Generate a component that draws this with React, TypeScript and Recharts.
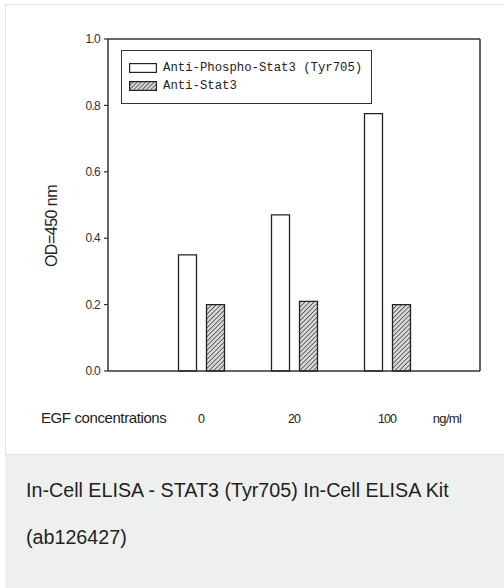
import { BarChart, Bar, XAxis, YAxis, CartesianGrid } from "recharts";

const concentrations = ["0", "20", "100"];
const phosphoStat3 = [0.35, 0.47, 0.775];
const totalStat3 = [0.2, 0.21, 0.2];
const yTicks = [0, 0.2, 0.4, 0.6, 0.8, 1.0];
const seriesNames = ["Anti-Phospho-Stat3 (Tyr705)", "Anti-Stat3"];

const data = concentrations.map((c, i) => ({
  conc: c,
  phospho: phosphoStat3[i],
  total: totalStat3[i],
}));

const AXIS = "#333";
const SANS = "Arial, 'Liberation Sans', sans-serif";
const MONO = "'Liberation Mono', 'Courier New', monospace";

const ConcTick = (props: any) => {
  const { x, payload } = props;
  return (
    <text
      x={x}
      y={423}
      textAnchor="middle"
      fontFamily={SANS}
      fontSize={12.5}
      letterSpacing={-0.9}
      fill="#222"
    >
      {payload.value}
    </text>
  );
};

const HatchSwatch = () => (
  <svg width={28} height={10} style={{ display: "block" }}>
    <defs>
      <pattern id="hatchLegend" width={3} height={3} patternUnits="userSpaceOnUse" patternTransform="rotate(45)">
        <rect width={3} height={3} fill="#d8d8d8" />
        <line x1={0} y1={0} x2={0} y2={3} stroke="#333" strokeWidth={1.4} />
      </pattern>
    </defs>
    <rect x={0.6} y={0.6} width={26.8} height={8.8} fill="url(#hatchLegend)" stroke="#222" strokeWidth={1.2} />
  </svg>
);

const PlainSwatch = () => (
  <svg width={28} height={10} style={{ display: "block" }}>
    <rect x={0.6} y={0.6} width={26.8} height={8.8} fill="#fff" stroke="#222" strokeWidth={1.2} />
  </svg>
);

export default function App() {
  return (
    <div
      style={{
        position: "absolute",
        left: 0,
        top: 0,
        width: 504,
        height: 588,
        background: "#fff",
        overflow: "hidden",
      }}
    >
      {/* card frame */}
      <div
        style={{
          position: "absolute",
          left: 5,
          top: 4,
          width: 510,
          height: 449,
          borderTop: "1.5px solid #e3e3e3",
          borderLeft: "1.5px solid #e3e3e3",
          borderBottom: "1.5px solid #e3e3e3",
        }}
      />
      <div style={{ position: "absolute", left: 0, top: 0 }}>
        <BarChart
          width={504}
          height={450}
          data={data}
          margin={{ top: 39, right: 24, left: 0, bottom: 0 }}
          barSize={18}
          barGap={10}
        >
          <defs>
            <pattern id="hatch" width={3.2} height={3.2} patternUnits="userSpaceOnUse" patternTransform="rotate(45)">
              <rect width={3.2} height={3.2} fill="#d8d8d8" />
              <line x1={0} y1={0} x2={0} y2={3.2} stroke="#3a3a3a" strokeWidth={1.4} />
            </pattern>
          </defs>
          {/* plot frame (top and right edges) */}
          <CartesianGrid
            stroke={AXIS}
            strokeWidth={1.5}
            horizontalCoordinatesGenerator={({ offset }: any) => [offset.top]}
            verticalCoordinatesGenerator={({ offset }: any) => [offset.left + offset.width]}
          />
          <XAxis
            dataKey="conc"
            height={79}
            padding={{ left: 46.5, right: 46.5 }}
            tickLine={false}
            axisLine={{ stroke: AXIS, strokeWidth: 1.5 }}
            tick={<ConcTick />}
            interval={0}
          />
          <YAxis
            width={108}
            domain={[0, 1]}
            ticks={yTicks}
            tickFormatter={(v: number) => v.toFixed(1)}
            tickSize={4}
            tickMargin={4}
            tick={{ fill: "#333", fontSize: 12, fontFamily: SANS, letterSpacing: -0.7 }}
            tickLine={{ stroke: AXIS, strokeWidth: 1.2 }}
            axisLine={{ stroke: AXIS, strokeWidth: 1.5 }}
          />
          <Bar
            dataKey="phospho"
            name={seriesNames[0]}
            fill="#ffffff"
            stroke="#222"
            strokeWidth={1.3}
            isAnimationActive={false}
          />
          <Bar
            dataKey="total"
            name={seriesNames[1]}
            fill="url(#hatch)"
            stroke="#222"
            strokeWidth={1.3}
            isAnimationActive={false}
          />
          <text
            x={51}
            y={226}
            transform="rotate(-90 51 226)"
            textAnchor="middle"
            dominantBaseline="central"
            fontFamily={SANS}
            fontSize={16}
            letterSpacing={-0.5}
            fill="#222"
          >
            OD=450 nm
          </text>
          <text x={41} y={423} fontFamily={SANS} fontSize={15} letterSpacing={-0.4} fill="#222">
            EGF concentrations
          </text>
          <text x={447} y={423} textAnchor="middle" fontFamily={SANS} fontSize={13} letterSpacing={-0.7} fill="#222">
            ng/ml
          </text>
        </BarChart>
      </div>

      {/* legend box */}
      <div
        style={{
          position: "absolute",
          left: 121,
          top: 50,
          width: 249,
          height: 52,
          border: "1.5px solid #333",
          background: "#fff",
          fontFamily: MONO,
          fontSize: 12.3,
          color: "#222",
        }}
      >
        <div style={{ position: "absolute", left: 7, top: 10, display: "flex", alignItems: "center", gap: 6 }}>
          <PlainSwatch />
          <span>{seriesNames[0]}</span>
        </div>
        <div style={{ position: "absolute", left: 7, top: 28, display: "flex", alignItems: "center", gap: 6 }}>
          <HatchSwatch />
          <span>{seriesNames[1]}</span>
        </div>
      </div>

      {/* caption */}
      <div
        style={{
          position: "absolute",
          left: 5,
          top: 455,
          width: 499,
          height: 133,
          background: "#eef0ef",
          fontFamily: SANS,
          fontSize: 19.7,
          color: "#222",
          lineHeight: "47px",
          paddingLeft: 21,
          paddingTop: 12,
          boxSizing: "border-box",
          whiteSpace: "nowrap",
        }}
      >
        In-Cell ELISA - STAT3 (Tyr705) In-Cell ELISA Kit
        <br />
        (ab126427)
      </div>
    </div>
  );
}
